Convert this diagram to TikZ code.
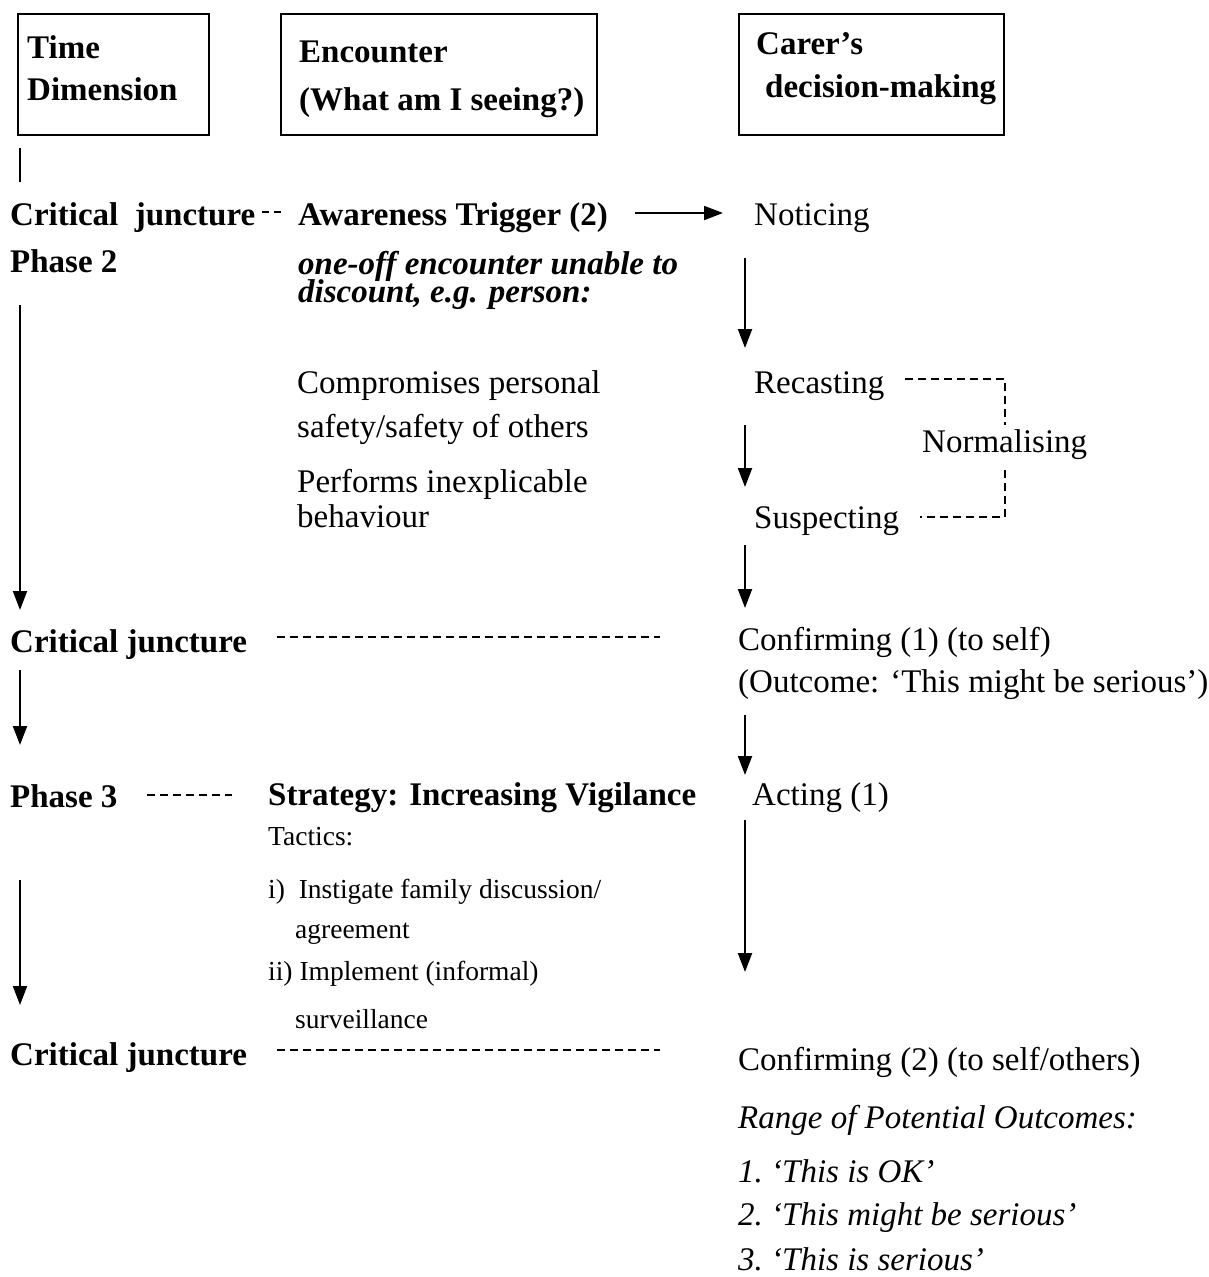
\documentclass[tikz,border=0pt]{standalone}
\usepackage{fontspec}
\setmainfont{Liberation Serif}
\usetikzlibrary{arrows.meta}
\begin{document}
\begin{tikzpicture}[x=1pt,y=-1pt,
  txt/.style={anchor=base west, inner sep=0pt, font=\fontsize{33}{36}\selectfont},
  btxt/.style={anchor=base west, inner sep=0pt, font=\fontsize{33}{36}\selectfont\bfseries},
  hdr/.style={anchor=base west, inner sep=0pt, font=\fontsize{33}{36}\selectfont\bfseries},
  bitxt/.style={anchor=base west, inner sep=0pt, font=\fontsize{33}{36}\selectfont\bfseries\itshape},
  itxt/.style={anchor=base west, inner sep=0pt, font=\fontsize{33}{36}\selectfont\itshape},
  stxt/.style={anchor=base west, inner sep=0pt, font=\fontsize{27.5}{30}\selectfont},
  hdrbox/.style={draw, line width=2pt, anchor=north west, inner sep=0pt},
  arr/.style={line width=2pt, -{Triangle[width=14pt,length=19pt]}},
  tick/.style={line width=2pt},
  dashln/.style={line width=1.6pt, dash pattern=on 8pt off 5pt},
]
\useasboundingbox (0,0) rectangle (1209,1277);

% column headings
\node[hdrbox, minimum width=191pt, minimum height=121pt] (box1) at (17,13) {};
\node[hdrbox, minimum width=316pt, minimum height=121pt] (box2) at (280,13) {};
\node[hdrbox, minimum width=265pt, minimum height=121pt] (box3) at (738,13) {};
\node[hdr] (h1a) at (27,58) {Time};
\node[hdr] (h1b) at (27,100) {Dimension};
\node[hdr] (h2a) at (299,62) {Encounter};
\node[hdr] (h2b) at (299,110) {(What am I seeing?)};
\node[hdr] (h3a) at (756,54) {Carer’s};
\node[hdr] (h3b) at (765,97) {decision-making};

% time dimension column
\coordinate (t0) at (20,148);
\coordinate (t1) at (20,182);
\draw[tick] (t0) -- (t1);
\node[btxt] (cj1) at (10,225) {Critical\ \ juncture};
\node[btxt] (ph2) at (10,272) {Phase 2};
\node[btxt] (cj2) at (10,652) {Critical juncture};
\node[btxt] (ph3) at (10,807) {Phase 3};
\node[btxt] (cj3) at (10,1065) {Critical juncture};
\coordinate (ta1) at (20,305);
\coordinate (ta2) at (20,610);
\coordinate (tb1) at (20,670);
\coordinate (tb2) at (20,745);
\coordinate (tc1) at (20,880);
\coordinate (tc2) at (20,1005);
\draw[arr] (ta1) -- (ta2);
\draw[arr] (tb1) -- (tb2);
\draw[arr] (tc1) -- (tc2);

% encounter column
\node[btxt] (aw) at (298,225) {Awareness Trigger (2)};
\node[bitxt] (oo1) at (298,274) {one-off encounter unable to};
\node[bitxt] (oo2) at (298,302) {discount, e.g. person:};
\node[txt] (cp1) at (297,393) {Compromises personal};
\node[txt] (cp2) at (297,437) {safety/safety of others};
\node[txt] (pf1) at (297,492) {Performs inexplicable};
\node[txt] (pf2) at (297,527) {behaviour};
\node[btxt] (st) at (268,805) {Strategy: Increasing Vigilance};
\node[stxt] (tc) at (268,845) {Tactics:};
\node[stxt] (ta) at (268,898) {i)\ \ Instigate family discussion/};
\node[stxt] (tab) at (295,938) {agreement};
\node[stxt] (tb) at (268,980) {ii) Implement (informal)};
\node[stxt] (tbb) at (295,1028) {surveillance};

% dashed links between columns
\coordinate (d0a) at (262,212);
\coordinate (d0b) at (283,212);
\draw[dashln, dash pattern=on 7pt off 5pt] (d0a) -- (d0b);
\coordinate (d1a) at (277,637);
\coordinate (d1b) at (660,637);
\draw[dashln] (d1a) -- (d1b);
\coordinate (d2a) at (147,795);
\coordinate (d2b) at (232,795);
\draw[dashln] (d2a) -- (d2b);
\coordinate (d3a) at (277,1050);
\coordinate (d3b) at (660,1050);
\draw[dashln] (d3a) -- (d3b);

% carer's decision-making column
\node[txt] (nt) at (754,225) {Noticing};
\node[txt] (rc) at (754,393) {Recasting};
\node[txt] (nm) at (922,452) {Normalising};
\node[txt] (sp) at (754,528) {Suspecting};
\node[txt] (cf1) at (738,650) {Confirming (1) (to self)};
\node[txt] (oc) at (738,692) {(Outcome: ‘This might be serious’)};
\node[txt] (ac) at (752,805) {Acting (1)};
\node[txt] (cf2) at (738,1070) {Confirming (2) (to self/others)};
\node[itxt] (rg) at (738,1128) {Range of Potential Outcomes:};
\node[itxt] (o1) at (738,1182) {1.\ ‘This is OK’};
\node[itxt] (o2) at (738,1225) {2.\ ‘This might be serious’};
\node[itxt] (o3) at (738,1270) {3.\ ‘This is serious’};

% trigger to noticing
\coordinate (a0a) at (635,213);
\coordinate (a0b) at (723,213);
\draw[arr] (a0a) -- (a0b);

% downward flow of decisions
\coordinate (r1a) at (745,258);
\coordinate (r1b) at (745,348);
\coordinate (r2a) at (745,425);
\coordinate (r2b) at (745,487);
\coordinate (r3a) at (745,545);
\coordinate (r3b) at (745,608);
\coordinate (r4a) at (745,715);
\coordinate (r4b) at (745,775);
\coordinate (r5a) at (745,820);
\coordinate (r5b) at (745,972);
\draw[arr] (r1a) -- (r1b);
\draw[arr] (r2a) -- (r2b);
\draw[arr] (r3a) -- (r3b);
\draw[arr] (r4a) -- (r4b);
\draw[arr] (r5a) -- (r5b);

% normalising bracket
\coordinate (n1) at (905,379);
\coordinate (n2) at (1005,379);
\coordinate (n3) at (1005,425);
\coordinate (n4) at (1005,470);
\coordinate (n5) at (1005,517);
\coordinate (n6) at (920,517);
\draw[dashln] (n1) -- (n2) -- (n3);
\draw[dashln] (n4) -- (n5) -- (n6);

\end{tikzpicture}
\end{document}
